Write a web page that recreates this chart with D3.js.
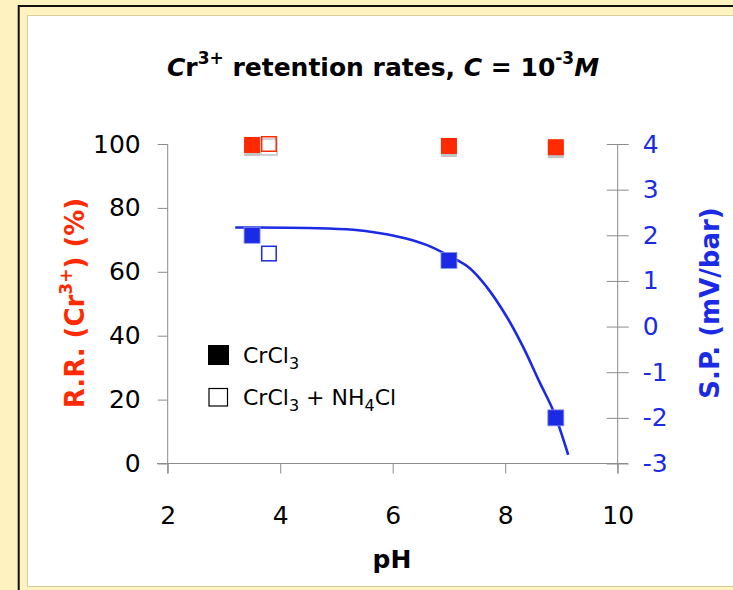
<!DOCTYPE html>
<html>
<head>
<meta charset="utf-8">
<script src="https://cdn.jsdelivr.net/npm/d3@7"></script>
<style>
  html, body { margin: 0; padding: 0; background: #fef2c0; }
  svg { display: block; }
  text { font-family: "DejaVu Sans", "Open Sans", sans-serif; }
</style>
</head>
<body>
<svg id="chart" width="733" height="590"></svg>
<script>
// Retention rate (%) of Cr3+ versus pH
const rrCrCl3 = [
  { ph: 3.5, v: 99.7 },
  { ph: 7.0, v: 99.4 },
  { ph: 8.9, v: 99.0 }
];
const rrCrCl3NH4Cl = [
  { ph: 3.8, v: 100.0 }
];
// Streaming potential (mV/bar) versus pH
const spCrCl3 = [
  { ph: 3.5, v: 2.0 },
  { ph: 7.0, v: 1.45 },
  { ph: 8.9, v: -2.0 }
];
const spCrCl3NH4Cl = [
  { ph: 3.8, v: 1.6 }
];
// Fitted streaming-potential trend
const spTrend = [
  { ph: 3.2, v: 2.17 },
  { ph: 4.5, v: 2.16 },
  { ph: 5.3, v: 2.12 },
  { ph: 6.1, v: 1.97 },
  { ph: 6.6, v: 1.79 },
  { ph: 7.0, v: 1.55 },
  { ph: 7.37, v: 1.28 },
  { ph: 7.67, v: 0.87 },
  { ph: 8.03, v: 0.21 },
  { ph: 8.32, v: -0.45 },
  { ph: 8.62, v: -1.24 },
  { ph: 8.86, v: -1.86 },
  { ph: 9.12, v: -2.81 }
];
const xTicks = [2, 4, 6, 8, 10];
const yLeftTicks = [0, 20, 40, 60, 80, 100];
const yRightTicks = [-3, -2, -1, 0, 1, 2, 3, 4];

const RED = "#ff2a00";
const BLUE = "#1b2ae4";
const AXIS = "#8c8c8c";

const svg = d3.select("#chart");

// Frame: yellow backdrop, black rule, white panel
svg.append("rect").attr("x", 0).attr("y", 0).attr("width", 733).attr("height", 590).attr("fill", "#fef2c0");
svg.append("path").attr("d", "M18.7,600 V6 H740").attr("fill", "none").attr("stroke", "#111").attr("stroke-width", 2);
svg.append("rect").attr("x", 27.5).attr("y", 15.5).attr("width", 720).attr("height", 571)
  .attr("fill", "#fff").attr("stroke", "#d9cf9e").attr("stroke-width", 1);

const x = d3.scaleLinear().domain([2, 10]).range([167.7, 617.7]);
const yL = d3.scaleLinear().domain([0, 100]).range([463.5, 144]);
const yR = d3.scaleLinear().domain([-3, 4]).range([463.5, 144]);

// Axis lines
const axisG = svg.append("g").attr("stroke", AXIS).attr("stroke-width", 1).attr("fill", "none");
axisG.append("line").attr("x1", 157).attr("x2", 628).attr("y1", yL(0)).attr("y2", yL(0));
axisG.append("line").attr("x1", x(2)).attr("x2", x(2)).attr("y1", yL(100)).attr("y2", yL(0) + 10);
axisG.append("line").attr("x1", x(10)).attr("x2", x(10)).attr("y1", yR(4)).attr("y2", yL(0) + 10);

// Left axis
const gL = svg.append("g").attr("transform", `translate(${x(2)},0)`)
  .call(d3.axisLeft(yL).tickValues(yLeftTicks).tickSize(10).tickPadding(17));
// Right axis (ticks cross the line)
const gR = svg.append("g").attr("transform", `translate(${x(10)},0)`)
  .call(d3.axisRight(yR).tickValues(yRightTicks).tickSize(11).tickPadding(14)
    .tickFormat(d => d < 0 ? "-" + Math.abs(d) : d));
gR.selectAll(".tick line").attr("x1", -11);
// Bottom axis
const gB = svg.append("g").attr("transform", `translate(0,${yL(0)})`)
  .call(d3.axisBottom(x).tickValues(xTicks).tickSize(10).tickPadding(33));

[gL, gR, gB].forEach(g => {
  g.select(".domain").remove();
  g.selectAll(".tick line").attr("stroke", AXIS);
  g.selectAll(".tick text").attr("font-size", 25).attr("font-family", "DejaVu Sans, sans-serif");
});
gL.selectAll(".tick text").attr("fill", "#000");
gB.selectAll(".tick text").attr("fill", "#000");
gR.selectAll(".tick text").attr("fill", BLUE);

// Title
const title = svg.append("text").attr("x", 383).attr("y", 76).attr("text-anchor", "middle")
  .attr("font-size", 25).attr("font-weight", "bold").attr("fill", "#000");
title.append("tspan").attr("font-style", "italic").text("C");
title.append("tspan").text("r");
title.append("tspan").attr("dy", -12).attr("font-size", 17).text("3+");
title.append("tspan").attr("dy", 12).text(" retention rates, ");
title.append("tspan").attr("font-style", "italic").text("C");
title.append("tspan").text(" = 10");
title.append("tspan").attr("dy", -12).attr("font-size", 17).text("-3");
title.append("tspan").attr("dy", 12).attr("font-style", "italic").text("M");

// Axis titles
svg.append("text").attr("x", 392).attr("y", 568).attr("text-anchor", "middle")
  .attr("font-size", 25).attr("font-weight", "bold").attr("fill", "#000").text("pH");

const lt = svg.append("text").attr("transform", "translate(84,303) rotate(-90)")
  .attr("text-anchor", "middle").attr("font-size", 26).attr("font-weight", "bold").attr("fill", RED);
lt.append("tspan").text("R.R. (Cr");
lt.append("tspan").attr("dy", -12).attr("font-size", 17).text("3+");
lt.append("tspan").attr("dy", 12).text(") (%)");

svg.append("text").attr("transform", "translate(719,303) rotate(-90)")
  .attr("text-anchor", "middle").attr("font-size", 26).attr("font-weight", "bold").attr("fill", BLUE)
  .text("S.P. (mV/bar)");

// Trend line on the right scale
const line = d3.line().x(d => x(d.ph)).y(d => yR(d.v)).curve(d3.curveCatmullRom);
svg.append("path").datum(spTrend).attr("d", line)
  .attr("fill", "none").attr("stroke", BLUE).attr("stroke-width", 2.6);

const S = 16;
// Retention markers with soft grey drop shadow
function rrMarkers(data, hollow) {
  const g = svg.append("g");
  g.selectAll("rect.sh").data(data).join("rect")
    .attr("x", d => x(d.ph) - S / 2).attr("y", d => yL(d.v) - S / 2 + 3)
    .attr("width", S).attr("height", S)
    .attr("fill", hollow ? "none" : "#c4c4c4")
    .attr("stroke", hollow ? "#c4c4c4" : "none").attr("stroke-width", 1.5);
  g.selectAll("rect.m").data(data).join("rect")
    .attr("x", d => x(d.ph) - S / 2 + (hollow ? 0.75 : 0)).attr("y", d => yL(d.v) - S / 2 + (hollow ? 0.75 : 0))
    .attr("width", hollow ? S - 1.5 : S).attr("height", hollow ? S - 1.5 : S)
    .attr("fill", hollow ? "#fff" : RED)
    .attr("fill-opacity", hollow ? 0 : 1)
    .attr("stroke", hollow ? RED : "none").attr("stroke-width", 1.5);
}
rrMarkers(rrCrCl3, false);
rrMarkers(rrCrCl3NH4Cl, true);

function spMarkers(data, hollow) {
  svg.append("g").selectAll("rect").data(data).join("rect")
    .attr("x", d => x(d.ph) - S / 2 + (hollow ? 0.75 : 0)).attr("y", d => yR(d.v) - S / 2 + (hollow ? 0.75 : 0))
    .attr("width", hollow ? S - 1.5 : S).attr("height", hollow ? S - 1.5 : S)
    .attr("fill", hollow ? "#fff" : BLUE)
    .attr("stroke", hollow ? BLUE : "#8c95f0").attr("stroke-width", hollow ? 1.5 : 0.8);
}
spMarkers(spCrCl3, false);
spMarkers(spCrCl3NH4Cl, true);

// Legend
const leg = svg.append("g");
leg.append("rect").attr("x", 208).attr("y", 345).attr("width", 21).attr("height", 20).attr("fill", "#000");
leg.append("rect").attr("x", 209).attr("y", 388.5).attr("width", 18.5).attr("height", 17.5)
  .attr("fill", "#fff").attr("stroke", "#000").attr("stroke-width", 1.2);
const l1 = leg.append("text").attr("x", 243).attr("y", 363).attr("font-size", 22).attr("fill", "#000");
l1.append("tspan").text("CrCl");
l1.append("tspan").attr("dy", 6).attr("font-size", 16).text("3");
const l2 = leg.append("text").attr("x", 243).attr("y", 405).attr("font-size", 22).attr("fill", "#000");
l2.append("tspan").text("CrCl");
l2.append("tspan").attr("dy", 6).attr("font-size", 16).text("3");
l2.append("tspan").attr("dy", -6).text(" + NH");
l2.append("tspan").attr("dy", 6).attr("font-size", 16).text("4");
l2.append("tspan").attr("dy", -6).text("Cl");
</script>
</body>
</html>
